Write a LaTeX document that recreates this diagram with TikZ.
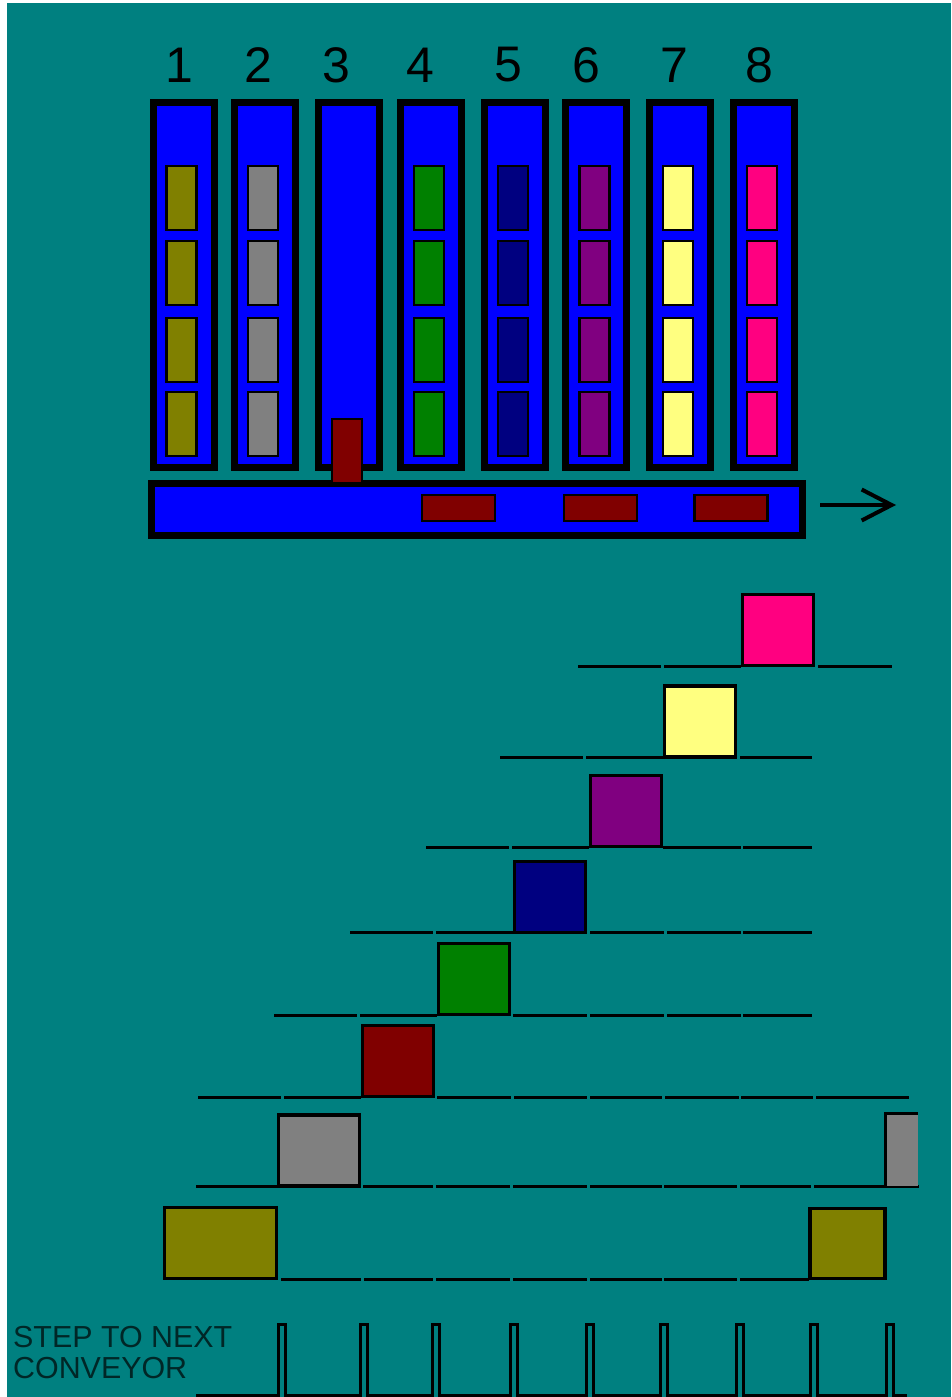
\documentclass[tikz,border=0pt]{standalone}
\usepackage{fontspec}
\setmainfont{Liberation Sans}
\usetikzlibrary{arrows.meta}
\definecolor{bgteal}{HTML}{008080}
\definecolor{tubeblue}{HTML}{0000FF}
\definecolor{olivebox}{HTML}{808000}
\definecolor{graybox}{HTML}{808080}
\definecolor{greenbox}{HTML}{008000}
\definecolor{navybox}{HTML}{000080}
\definecolor{purplebox}{HTML}{800080}
\definecolor{yellowbox}{HTML}{FFFF80}
\definecolor{pinkbox}{HTML}{FF0080}
\definecolor{redbox}{HTML}{800000}
\begin{document}
\begin{tikzpicture}[
      x=1pt, y=-1pt,
      tube/.style={draw, line width=7pt, fill=tubeblue, minimum width=61pt, minimum height=365pt, inner sep=0pt, outer sep=0pt},
      belt/.style={draw, line width=7pt, fill=tubeblue, minimum width=651pt, minimum height=52pt, inner sep=0pt, outer sep=0pt},
      item/.style={draw, line width=2.6pt, minimum width=30pt, minimum height=64pt, inner sep=0pt, outer sep=0pt},
      slab/.style={draw, line width=2.6pt, fill=redbox, minimum width=73pt, minimum height=26pt, inner sep=0pt, outer sep=0pt},
      block/.style={draw, line width=3.4pt, minimum width=71pt, minimum height=71pt, inner sep=0pt, outer sep=0pt},
      num/.style={font=\fontsize{50}{50}\selectfont, inner sep=0pt},
      caption/.style={font=\fontsize{30.4}{30.4}\selectfont, text=black!70!bgteal, inner sep=0pt, anchor=west},
      trace/.style={line width=3pt},
      arr/.style={-{Straight Barb[length=30pt, width=31pt, line width=4pt]}, line width=4pt}
  ]
    \useasboundingbox (0,0) rectangle (951,1397);
    \fill[white] (0,0) rectangle (951,1397);
    \fill[bgteal] (7,3) rectangle (951,1397);

    % feeders with their numbers
    \foreach \n/\tx/\lx in {1/183.5/179, 2/265/258, 3/349/336, 4/431/420, 5/515/508, 6/596/586, 7/680/674, 8/764/759} {
      \node[tube] (t\n) at (\tx,285) {};
      \node[num] (n\n) at (\lx,65) {\n};
    }

    % parts waiting in the feeders
    \foreach \n/\ix/\col in {1/181.5/olivebox, 2/263/graybox, 4/429/greenbox, 5/513/navybox, 6/594.5/purplebox, 7/678/yellowbox, 8/762/pinkbox} {
      \foreach \r/\iy in {1/198, 2/273, 3/350, 4/424}
        \node[item, fill=\col] (i\n\r) at (\ix,\iy) {};
    }

    % conveyor
    \node[belt] (conv) at (476.5,509.5) {};
    \node[item, fill=redbox] (drop) at (347,451) {};
    \node[slab] (s1) at (458.5,508) {};
    \node[slab] (s2) at (600.5,508) {};
    \node[slab] (s3) at (731,508) {};
    \coordinate (a0) at (820,505);
    \coordinate (a1) at (896,505);
    \draw[arr] (a0) -- (a1);

    % timing rows
    \foreach \y/\segs in {
        666.5/{578/661, 664/741, 818/892},
        757.5/{500/583, 586/663, 740/812},
        847/{426/509, 512/589, 663/741, 743/812},
        932.5/{350/433, 436/513, 590/664, 667/741, 743/812},
        1015/{274/357, 360/437, 513/587, 590/664, 667/741, 743/812},
        1097/{198/281, 284/361, 437/511, 514/587, 590/662, 665/739, 741/813, 816/909},
        1186.5/{196/277, 363/433, 436/510, 513/587, 590/662, 664/737, 740/811, 814/919},
        1279/{281/361, 364/433, 436/510, 513/587, 590/662, 664/737, 740/809}} {
      \foreach \a/\b in \segs
        \draw[trace] (\a,\y) -- (\b,\y);
    }

    % blocks on the rows
    \node[block, fill=pinkbox]   (b8) at (778,630) {};
    \node[block, fill=yellowbox] (b7) at (700,721.5) {};
    \node[block, fill=purplebox] (b6) at (626,811) {};
    \node[block, fill=navybox]   (b5) at (550,897) {};
    \node[block, fill=greenbox]  (b4) at (474,979) {};
    \node[block, fill=redbox]    (b3) at (398,1061) {};
    \node[block, fill=graybox, minimum width=81pt] (b2) at (319,1150.5) {};
    \node[block, fill=olivebox, minimum width=112pt, minimum height=71pt] (b1) at (220.5,1243) {};
    \node[block, fill=olivebox, minimum width=75pt, minimum height=70pt] (b9) at (847.5,1243.5) {};
    \fill[graybox] (885.5,1113.5) rectangle (918,1185.5);
    \draw[line width=3.4pt] (885.5,1186) -- (885.5,1113.5) -- (918,1113.5);

    % step pulses
    \draw[trace] (196,1395)
      \foreach \p in {278.5, 360, 432, 510.5, 586.5, 660, 736, 810, 886} {
        -- (\p,1395) -- (\p,1324) -- (\p+7,1324) -- (\p+7,1395)
      } -- (907,1395);

    \node[caption] (c1) at (13,1337) {STEP TO NEXT};
    \node[caption] (c2) at (13,1368) {CONVEYOR};
\end{tikzpicture}
\end{document}
